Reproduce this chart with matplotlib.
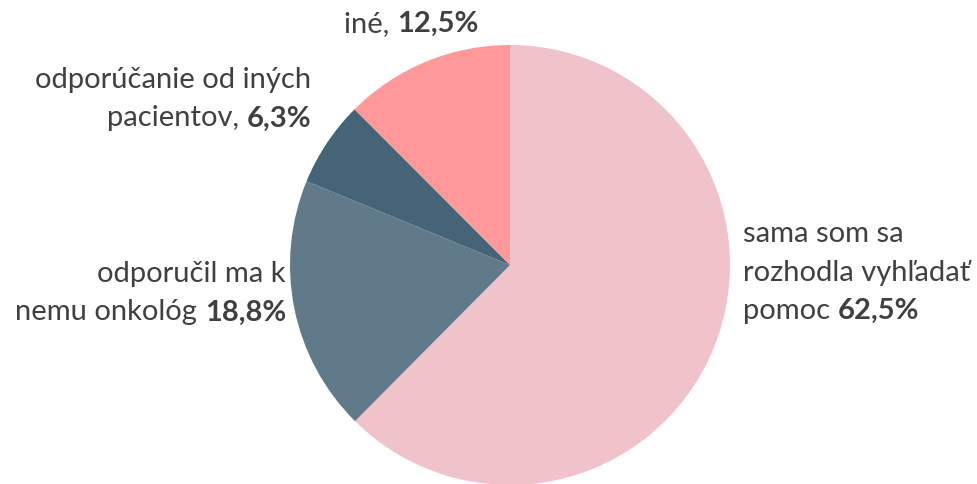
import matplotlib
matplotlib.use("Agg")
import matplotlib.pyplot as plt

labels = ["sama som sa\nrozhodla vyhľadať\npomoc", "odporučil ma k\nnemu onkológ", "odporúčanie od iných\npacientov,", "iné,"]
pct_labels = ["62,5%", "18,8%", "6,3%", "12,5%"]
values = [62.5, 18.8, 6.3, 12.5]
colors = ["#F0C2C9", "#617A8A", "#456478", "#FF9999"]

W, H = 978, 485
DPI = 100
CX, CY, R = 510, 266, 220  # pixel layout of pie

plt.rcParams['font.family'] = ['Lato', 'DejaVu Sans']
FS = 21
TXT = "#404040"
LINE = 38.5

fig = plt.figure(figsize=(W / DPI, H / DPI), dpi=DPI)
ax = fig.add_axes([0, 0, 1, 1])
ax.pie(values, colors=colors, startangle=90, counterclock=False,
       radius=1, center=(0, 0), wedgeprops=dict(linewidth=0))
ax.set_xlim(-CX / R, (W - CX) / R)
ax.set_ylim(-(H - CY) / R, CY / R)
ax.set_aspect('auto')
ax.axis('off')

renderer = fig.canvas.get_renderer()


def px(x, y):
    return x / W, 1 - y / H


def line(x, ybase, parts, ha):
    # parts: list of (text, weight); draw consecutively on one baseline
    texts = []
    widths = []
    for s, w in parts:
        t = fig.text(0, 0, s, fontsize=FS, fontweight=w, color=TXT,
                     va='baseline', ha='left')
        widths.append(t.get_window_extent(renderer).width)
        texts.append(t)
    total = sum(widths)
    if ha == 'left':
        x0 = x
    elif ha == 'right':
        x0 = x - total
    else:
        x0 = x - total / 2
    for t, w in zip(texts, widths):
        t.set_position(px(x0, ybase))
        x0 += w


def label(x, ybase0, text, pct, ha, sep=" "):
    rows = text.split("\n")
    for i, r in enumerate(rows):
        yb = ybase0 + i * LINE
        if i == len(rows) - 1:
            line(x, yb, [(r + sep, 'normal'), (pct, 'bold')], ha)
        else:
            line(x, yb, [(r, 'normal')], ha)


label(743, 242, labels[0], pct_labels[0], 'left')
label(286, 282, labels[1], pct_labels[1], 'right')
label(311, 88, labels[2], pct_labels[2], 'right')
label(411, 32, labels[3], pct_labels[3], 'center')

fig.savefig("out.png", dpi=DPI)
